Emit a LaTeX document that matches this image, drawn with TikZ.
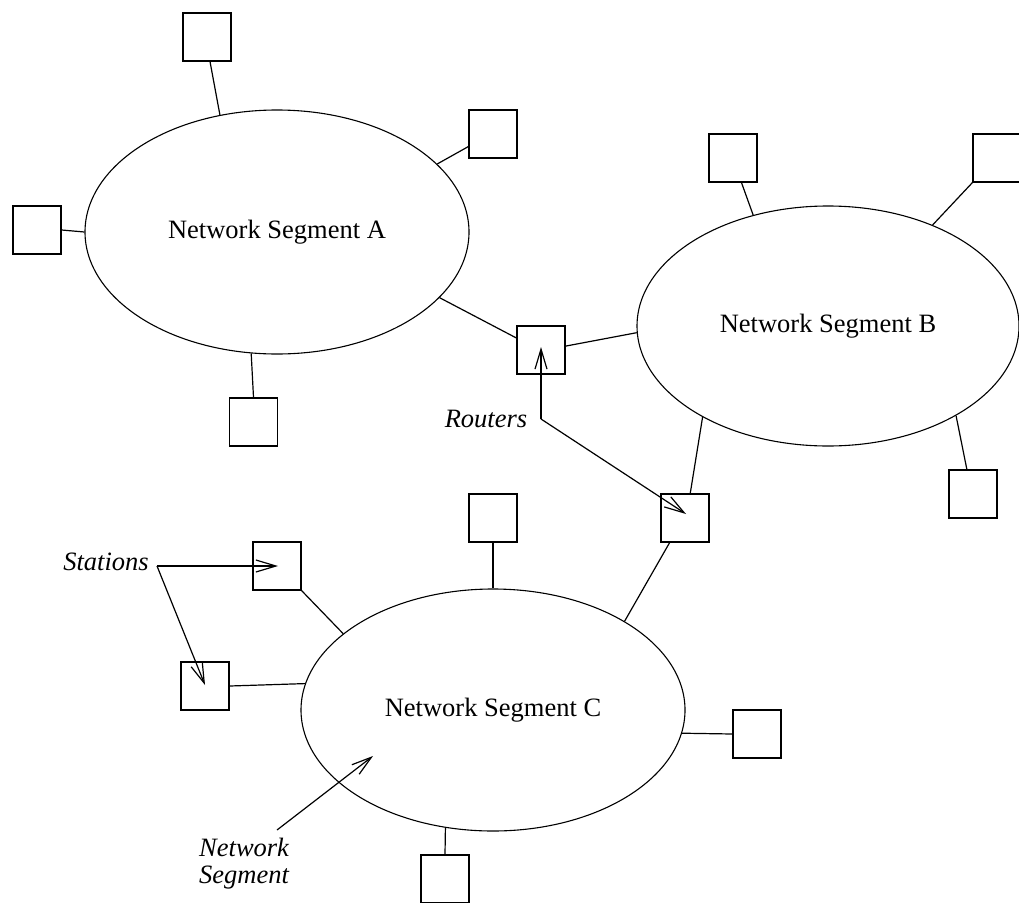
\documentclass[tikz,border=0pt]{standalone}
\usepackage{fontspec}
\setmainfont{Liberation Serif}
\usetikzlibrary{shapes.geometric,arrows.meta,calc}
\newcommand\segfont{\fontsize{26.5}{27}\selectfont}

\begin{document}
\begin{tikzpicture}[x=1pt,y=-1pt,
  every node/.style={inner sep=0pt},
  segment/.style={draw, ellipse, line width=1.1pt, font=\segfont},
  station/.style={draw, rectangle, minimum size=48pt, line width=1.3pt},
  link/.style={line width=1.2pt},
  pointer/.style={line width=1.2pt, -{Straight Barb[length=20pt,width=12pt]}},
  label/.style={font=\itshape\segfont}]

\clip (0,0) rectangle (1019,902);

% network segments
\node[segment, minimum width=384pt, minimum height=244pt] (segA) at (277,232) {Network Segment A};
\node[segment, minimum width=382pt, minimum height=240pt] (segB) at (828,326) {Network Segment B};
\node[segment, minimum width=384pt, minimum height=242pt] (segC) at (493,710) {Network Segment C};

% stations on segment A
\node[station] (a1) at (207,37) {};
\node[station] (a2) at (493,134) {};
\node[station] (a3) at (37,230) {};
\node[station] (a4) at (253.5,422) {};

% stations on segment B
\node[station] (b1) at (733,158) {};
\node[station] (b2) at (997,158) {};
\node[station] (b3) at (973,494) {};

% stations on segment C
\node[station] (c1) at (493,518) {};
\node[station] (c2) at (277,566) {};
\node[station] (c3) at (205,686) {};
\node[station] (c4) at (757,734) {};
\node[station] (c5) at (445,879) {};

% routers
\node[station] (r1) at (541,350) {};
\node[station] (r2) at (685,518) {};

% attachments
\draw[link] (a1.-83) -- (segA.116.2);
\draw[link] (a2.207.9) -- (segA.23.2);
\draw[link] (a3.east) -- (segA.180);
\draw[link] (a4.north) -- (segA.258.8);

\draw[link] (b1.-71.6) -- (segB.124.7);
\draw[link] (b2.south west) -- (segB.44.8);
\draw[link] (b3.104.7) -- (segB.-35.9);

\draw[link] (c1.south) -- (segC.90);
\draw[link] (c2.south east) -- (segC.153);
\draw[link] (c3.east) -- (segC.172.73);
\draw[link] (c4.west) -- (segC.-7.27);
\draw[link] (c5.north) -- (segC.-112.3);

\draw[link] (r1.154.3) -- (segA.-22.9);
\draw[link] (r1.9.6) -- (segB.182.5);
\draw[link] (r2.78.2) -- (segB.216.7);
\draw[link] (r2.238) -- (segC.34.4);

% labels
\node[label, anchor=base] (routers) at (486,427) {Routers};
\node[label, anchor=base] (stations) at (106,570) {Stations};
\node[label, anchor=west, align=left] (seglabel) at (199,864) {Network\\Segment};

% pointers
\coordinate (rcorner) at (541,419);
\coordinate (scorner) at (157,566);
\coordinate (ntail) at (277,830);
\draw[pointer] (rcorner) -- ($(r1.center)+(0,-3)$);
\draw[pointer] (rcorner) -- ($(r2.center)+(1,-4)$);
\draw[pointer] (scorner) -- ($(c2.center)+(1,0)$);
\draw[pointer] (scorner) -- ($(c3.center)+(0,-1)$);
\draw[pointer] (ntail) -- ($(segC.center)+(-120,46)$);

\end{tikzpicture}
\end{document}
